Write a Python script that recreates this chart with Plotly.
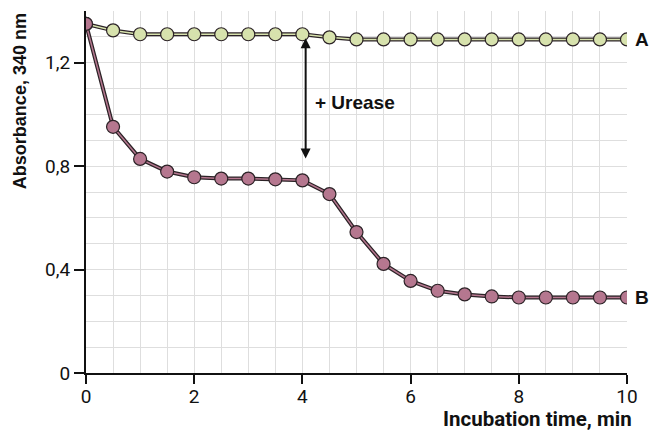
import plotly.graph_objects as go

time = [0, 0.5, 1, 1.5, 2, 2.5, 3, 3.5, 4, 4.5, 5, 5.5, 6, 6.5, 7, 7.5, 8, 8.5, 9, 9.5, 10]
series_a = [1.35, 1.325, 1.31, 1.31, 1.31, 1.31, 1.31, 1.31, 1.31, 1.298, 1.29, 1.29, 1.29, 1.29, 1.29, 1.29, 1.29, 1.29, 1.29, 1.29, 1.29]
series_b = [1.35, 0.952, 0.828, 0.779, 0.757, 0.752, 0.752, 0.749, 0.745, 0.692, 0.545, 0.422, 0.356, 0.318, 0.304, 0.296, 0.292, 0.292, 0.292, 0.292, 0.292]
y_ticks = [0, 0.4, 0.8, 1.2]
y_tick_text = ["0", "0,4", "0,8", "1,2"]
x_ticks = [0, 2, 4, 6, 8, 10]

FONT = "Roboto"
SANS = "Liberation Sans"
DARK = "#2b2226"
TXT = "#111111"
A_FILL = "#d7e2ad"
B_FILL = "#b5778f"

H, T, B = 432, 11, 59
plot_h = H - T - B

fig = go.Figure()
for ys, fill in [(series_a, A_FILL), (series_b, B_FILL)]:
    fig.add_trace(go.Scatter(x=time, y=ys, mode="lines",
                             line=dict(color=DARK, width=4), hoverinfo="skip"))
    fig.add_trace(go.Scatter(x=time, y=ys, mode="lines+markers",
                             line=dict(color=fill, width=1.5),
                             marker=dict(size=13, color=fill, line=dict(color=DARK, width=1.2))))

fig.add_annotation(x=4.06, y=0.83, ax=4.06, ay=1.30, xref="x", yref="y", axref="x", ayref="y",
                   text="", showarrow=True, arrowhead=2, arrowside="end+start",
                   arrowsize=1, arrowwidth=2, arrowcolor=TXT)
fig.add_annotation(x=4.2, y=1.048, xref="x", yref="y", text="<b>+ Urease</b>", showarrow=False,
                   xanchor="left", yanchor="middle", font=dict(family=SANS, size=19, color=TXT))
fig.add_annotation(x=1, y=series_a[-1], xref="paper", yref="y", text="<b>A</b>", showarrow=False,
                   xanchor="left", xshift=6, font=dict(family=SANS, size=19, color=TXT))
fig.add_annotation(x=1, y=series_b[-1], xref="paper", yref="y", text="<b>B</b>", showarrow=False,
                   xanchor="left", xshift=6, font=dict(family=SANS, size=19, color=TXT))
fig.add_annotation(x=1, y=-B / plot_h, xref="paper", yref="paper", text="<b>Incubation time, min</b>",
                   showarrow=False, xanchor="right", yanchor="bottom", yshift=-1, xshift=7,
                   font=dict(family=FONT, size=20.5, color=TXT))
fig.add_annotation(x=0, y=0.751, xref="paper", yref="paper", text="<b>Absorbance, 340 nm</b>",
                   showarrow=False, xanchor="center", yanchor="middle", textangle=-90, xshift=-66,
                   font=dict(family=SANS, size=18, color=TXT))

fig.update_xaxes(range=[0, 10], tickvals=x_ticks, ticks="outside", ticklen=9, tickwidth=2,
                 tickcolor=TXT, showline=True, linecolor=TXT, linewidth=2, ticklabelstandoff=-4,
                 showgrid=True, gridcolor="#dedede", gridwidth=1.2, zeroline=False,
                 minor=dict(dtick=0.5, showgrid=True, gridcolor="#dedede", gridwidth=1.2),
                 tickfont=dict(family=FONT, size=19, color=TXT))
fig.update_yaxes(range=[0, 1.4], tickvals=y_ticks, ticktext=y_tick_text, ticks="outside", ticklen=10,
                 tickwidth=2, tickcolor=TXT, showline=True, linecolor=TXT, linewidth=2,
                 showgrid=True, gridcolor="#dedede", gridwidth=1.2, zeroline=False,
                 minor=dict(dtick=0.1, showgrid=True, gridcolor="#dedede", gridwidth=1.2),
                 tickfont=dict(family=FONT, size=19, color=TXT))
fig.update_layout(width=649, height=H, margin=dict(l=86, r=22, t=T, b=B),
                  plot_bgcolor="white", paper_bgcolor="white", showlegend=False,
                  font=dict(family=FONT))
fig.write_html("out.html")
